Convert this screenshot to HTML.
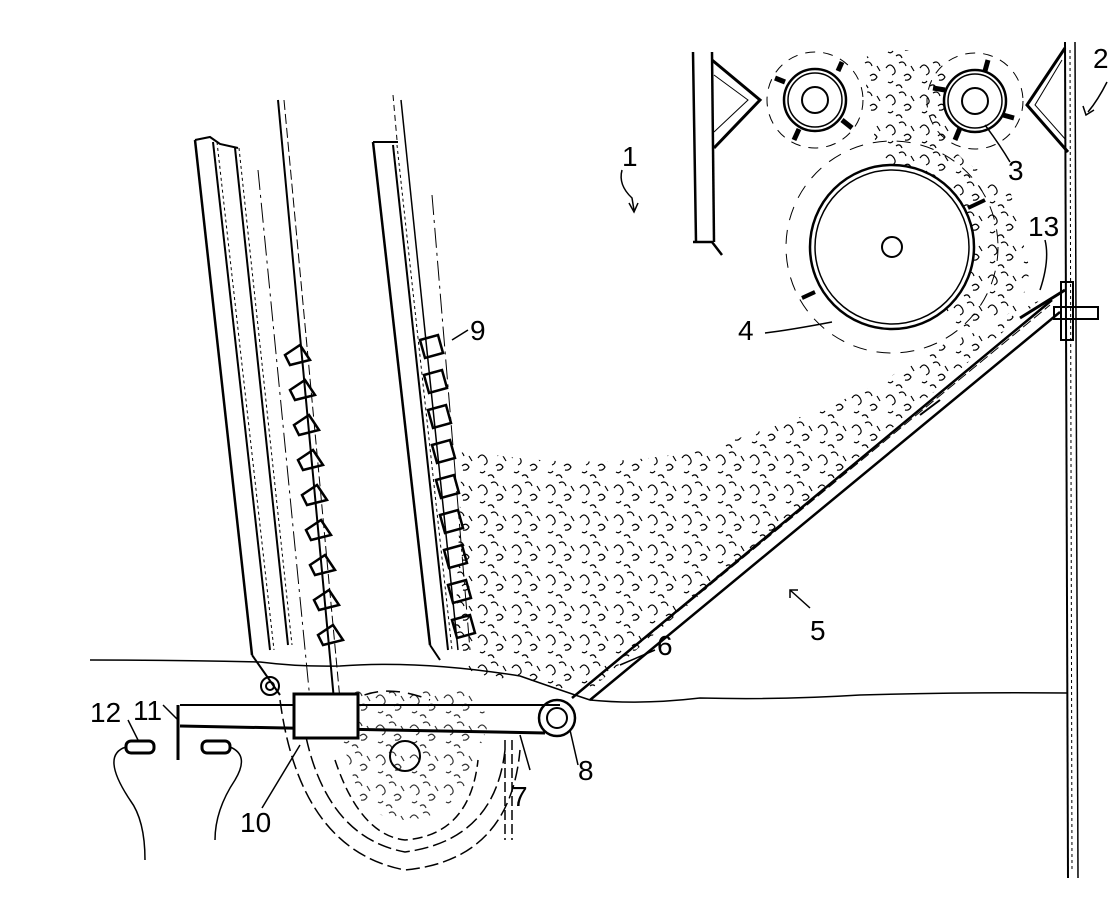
<!DOCTYPE html>
<html><head><meta charset="utf-8"><style>
html,body{margin:0;padding:0;background:#fff;}
svg{display:block}
text{font-family:"Liberation Sans",sans-serif;font-size:28px;fill:#000}
</style></head><body>
<svg width="1120" height="902" viewBox="0 0 1120 902" xmlns="http://www.w3.org/2000/svg">
<defs>
<pattern id="cot" width="34" height="30" patternUnits="userSpaceOnUse">
<path d="M2 8 q4 -6 8 0 q3 5 -2 7 M15 3 q5 -3 7 3 M20 16 q4 -4 7 1 q-2 4 -6 3 M4 22 q3 2 5 -1 M27 6 l3 5 M12 26 q4 -3 6 2" fill="none" stroke="#000" stroke-width="1.2"/>
</pattern>
</defs>
<g fill="none" stroke="#000" stroke-width="2">
<!-- cotton -->
<path d="M462 450 C520 460 600 470 700 450 C800 420 880 390 930 350 C980 330 1010 320 1030 305 L1040 300 L590 690 L560 690 L520 680 L470 675 L455 640 Z" fill="url(#cot)" stroke="none"/>
<path d="M862 60 C880 45 930 45 945 70 L950 140 C955 160 980 170 1010 190 L1030 270 L1020 310 L960 330 L930 300 L890 170 L875 140 Z" fill="url(#cot)" stroke="none"/>
<path d="M330 700 L360 800 Q400 840 460 800 L490 720 L470 690 L330 690 Z" fill="url(#cot)" stroke="none" opacity="0.8"/>
<!-- right wall -->
<line x1="1065" y1="42" x2="1068" y2="878"/><line x1="1075" y1="42" x2="1078" y2="878" stroke-width="1.5"/>
<line x1="1070" y1="50" x2="1072" y2="870" stroke-dasharray="3 3" stroke-width="1"/>
<path d="M1065 48 L1027 105 L1068 152" stroke-width="3"/><path d="M1062 60 L1035 105 L1066 140" stroke-width="1"/>
<path d="M1065 290 L1020 318" stroke-width="3"/>
<rect x="1061" y="282" width="12" height="58" stroke-width="2"/><rect x="1054" y="307" width="44" height="12" stroke-width="2"/>
<!-- left top bracket -->
<line x1="693" y1="52" x2="696" y2="242" stroke-width="2.5"/><line x1="712" y1="52" x2="714" y2="242" stroke-width="2.5"/>
<path d="M693 242 L712 242 L722 255" stroke-width="2.5"/><path d="M712 60 L760 100 L714 148" stroke-width="3"/><path d="M714 75 L748 100 L714 132" stroke-width="1"/>
<!-- rollers -->
<circle cx="815" cy="100" r="31" fill="#fff" stroke-width="2.5"/><circle cx="815" cy="100" r="27" stroke-width="1.5"/><circle cx="815" cy="100" r="13"/><circle cx="815" cy="100" r="48" stroke-dasharray="10 8" stroke-width="1"/>
<circle cx="975" cy="101" r="31" fill="#fff" stroke-width="2.5"/><circle cx="975" cy="101" r="27" stroke-width="1.5"/><circle cx="975" cy="101" r="13"/><circle cx="975" cy="101" r="48" stroke-dasharray="10 8" stroke-width="1"/>
<g stroke-width="5"><line x1="785" y1="82" x2="775" y2="78"/><line x1="799" y1="129" x2="794" y2="140"/><line x1="842" y1="120" x2="852" y2="128"/><line x1="838" y1="71" x2="842" y2="62"/><line x1="945" y1="90" x2="933" y2="88"/><line x1="985" y1="71" x2="988" y2="60"/><line x1="1003" y1="115" x2="1014" y2="118"/><line x1="960" y1="128" x2="955" y2="140"/></g>
<!-- drum -->
<circle cx="892" cy="247" r="82" fill="#fff" stroke-width="2.5"/><circle cx="892" cy="247" r="77" stroke-width="1.5"/><circle cx="892" cy="247" r="10"/>
<circle cx="892" cy="247" r="106" stroke-dasharray="14 10" stroke-width="1"/>
<g stroke-width="4"><line x1="968" y1="208" x2="985" y2="200"/><line x1="815" y1="292" x2="802" y2="298"/></g>
<!-- inclined plate 6 -->
<line x1="572" y1="698" x2="1052" y2="300" stroke-width="2.5"/>
<line x1="590" y1="700" x2="1060" y2="312" stroke-width="2.5"/>
<line x1="580" y1="692" x2="1050" y2="305" stroke-width="1" stroke-dasharray="10 4"/>
<line x1="920" y1="415" x2="940" y2="400"/>
<!-- floor line -->
<path d="M90 660 Q180 660 260 662 Q300 667 340 666 Q420 660 520 676 Q560 690 590 700 Q640 705 700 698 Q780 700 860 695 Q960 692 1068 693" stroke-width="1.5"/>
<!-- left channel board 1 -->
<line x1="195" y1="140" x2="252" y2="655" stroke-width="2.5"/>
<line x1="213" y1="142" x2="270" y2="650" stroke-width="2"/><line x1="217" y1="142" x2="274" y2="650" stroke-width="1" stroke-dasharray="3 3"/>
<line x1="235" y1="148" x2="288" y2="645" stroke-width="2"/><line x1="239" y1="148" x2="292" y2="645" stroke-width="1" stroke-dasharray="3 3"/>
<path d="M195 140 L210 137 L220 144 L238 148"/><path d="M252 655 L280 695"/>
<line x1="258" y1="170" x2="310" y2="700" stroke-dasharray="20 5 3 5" stroke-width="1"/>
<line x1="278" y1="100" x2="334" y2="700"/><line x1="284" y1="100" x2="340" y2="700" stroke-dasharray="10 4" stroke-width="1"/>
<!-- board 2 -->
<line x1="373" y1="142" x2="430" y2="645" stroke-width="2.5"/>
<line x1="393" y1="145" x2="448" y2="650" stroke-width="2"/><line x1="397" y1="145" x2="452" y2="650" stroke-width="1" stroke-dasharray="3 3"/>
<line x1="401" y1="100" x2="458" y2="650" stroke-width="1.5"/>
<path d="M373 142 L398 142"/><path d="M430 645 L440 660"/>
<line x1="432" y1="195" x2="470" y2="650" stroke-dasharray="20 5 3 5" stroke-width="1"/>
<line x1="393" y1="95" x2="397" y2="140" stroke-dasharray="6 4" stroke-width="1"/>
<!-- chain cups 1 -->
<g stroke-width="2.5">
<path d="M285 355 l15 -10 l10 15 l-20 5 Z"/><path d="M290 390 l15 -10 l10 15 l-20 5 Z"/><path d="M294 425 l15 -10 l10 15 l-20 5 Z"/><path d="M298 460 l15 -10 l10 15 l-20 5 Z"/><path d="M302 495 l15 -10 l10 15 l-20 5 Z"/><path d="M306 530 l15 -10 l10 15 l-20 5 Z"/><path d="M310 565 l15 -10 l10 15 l-20 5 Z"/><path d="M314 600 l15 -10 l10 15 l-20 5 Z"/><path d="M318 635 l15 -10 l10 15 l-20 5 Z"/>
<!-- cups 2 -->
<path d="M420 340 l18 -5 l5 18 l-18 5 Z"/><path d="M424 375 l18 -5 l5 18 l-18 5 Z"/><path d="M428 410 l18 -5 l5 18 l-18 5 Z"/><path d="M432 445 l18 -5 l5 18 l-18 5 Z"/><path d="M436 480 l18 -5 l5 18 l-18 5 Z"/><path d="M440 515 l18 -5 l5 18 l-18 5 Z"/><path d="M444 550 l18 -5 l5 18 l-18 5 Z"/><path d="M448 585 l18 -5 l5 18 l-18 5 Z"/><path d="M452 620 l18 -5 l5 18 l-18 5 Z"/>
</g>
<!-- U trough -->
<path d="M280 700 Q300 850 405 870 Q510 860 520 750" stroke-dasharray="14 5" stroke-width="1.5"/>
<path d="M300 700 Q315 835 405 852 Q495 840 505 750" stroke-dasharray="14 5" stroke-width="1.5"/>
<path d="M335 760 Q360 835 405 840 Q470 835 478 760" stroke-dasharray="10 5" stroke-width="1.5"/>
<path d="M345 705 Q380 680 430 700" stroke-dasharray="14 8" stroke-width="1.5"/>
<line x1="505" y1="740" x2="505" y2="840" stroke-dasharray="10 4" stroke-width="1.5"/><line x1="512" y1="740" x2="512" y2="840" stroke-dasharray="10 4" stroke-width="1.5"/>
<circle cx="405" cy="756" r="15"/>
<!-- lever 7 -->
<line x1="180" y1="705" x2="560" y2="705" stroke-width="2"/>
<line x1="180" y1="726" x2="545" y2="733" stroke-width="3"/>
<rect x="294" y="694" width="64" height="44" fill="#fff" stroke-width="3"/>
<line x1="178" y1="705" x2="178" y2="760" stroke-width="3"/>
<circle cx="270" cy="686" r="9"/><circle cx="270" cy="686" r="4"/>
<circle cx="557" cy="718" r="18" stroke-width="2.5"/><circle cx="557" cy="718" r="10" stroke-width="2"/>
<!-- sensors -->
<rect x="126" y="741" width="28" height="12" rx="5" stroke-width="3"/><rect x="202" y="741" width="28" height="12" rx="5" stroke-width="3"/>
<path d="M126 747 Q100 755 130 800 Q145 820 145 860" stroke-width="1.5"/>
<path d="M230 747 Q250 755 235 780 Q215 810 215 840" stroke-width="1.5"/>
<!-- leaders -->
<path d="M1107 82 Q1098 100 1088 112" stroke-width="1.5"/><path d="M1083 106 L1086 115 L1094 110" stroke-width="1.5"/>
<path d="M1010 162 Q1000 145 985 125" stroke-width="1.5"/>
<path d="M1045 240 Q1050 260 1040 290" stroke-width="1.5"/>
<path d="M765 333 Q790 330 832 322" stroke-width="1.5"/>
<path d="M622 170 Q618 185 632 198 L634 210" stroke-width="1.5"/><path d="M629 203 L634 212 L638 203" stroke-width="1.5"/>
<path d="M468 330 L452 340" stroke-width="1.5"/>
<path d="M810 608 L790 590" stroke-width="1.5"/><path d="M790 598 L790 590 L798 590" stroke-width="1.5"/>
<path d="M655 650 L620 665" stroke-width="1.5"/>
<path d="M163 705 L178 720" stroke-width="1.5"/>
<path d="M128 720 L138 740" stroke-width="1.5"/>
<path d="M262 808 L300 745" stroke-width="1.5"/>
<path d="M530 770 L520 735" stroke-width="1.5"/>
<path d="M578 765 L570 730" stroke-width="1.5"/>
</g>
<g>
<text x="1093" y="68">2</text>
<text x="1008" y="180">3</text>
<text x="1028" y="236">13</text>
<text x="622" y="166">1</text>
<text x="738" y="340">4</text>
<text x="470" y="340">9</text>
<text x="810" y="640">5</text>
<text x="657" y="655">6</text>
<text x="133" y="720">11</text>
<text x="90" y="722">12</text>
<text x="240" y="832">10</text>
<text x="512" y="806">7</text>
<text x="578" y="780">8</text>
</g>
</svg>
</body></html>
